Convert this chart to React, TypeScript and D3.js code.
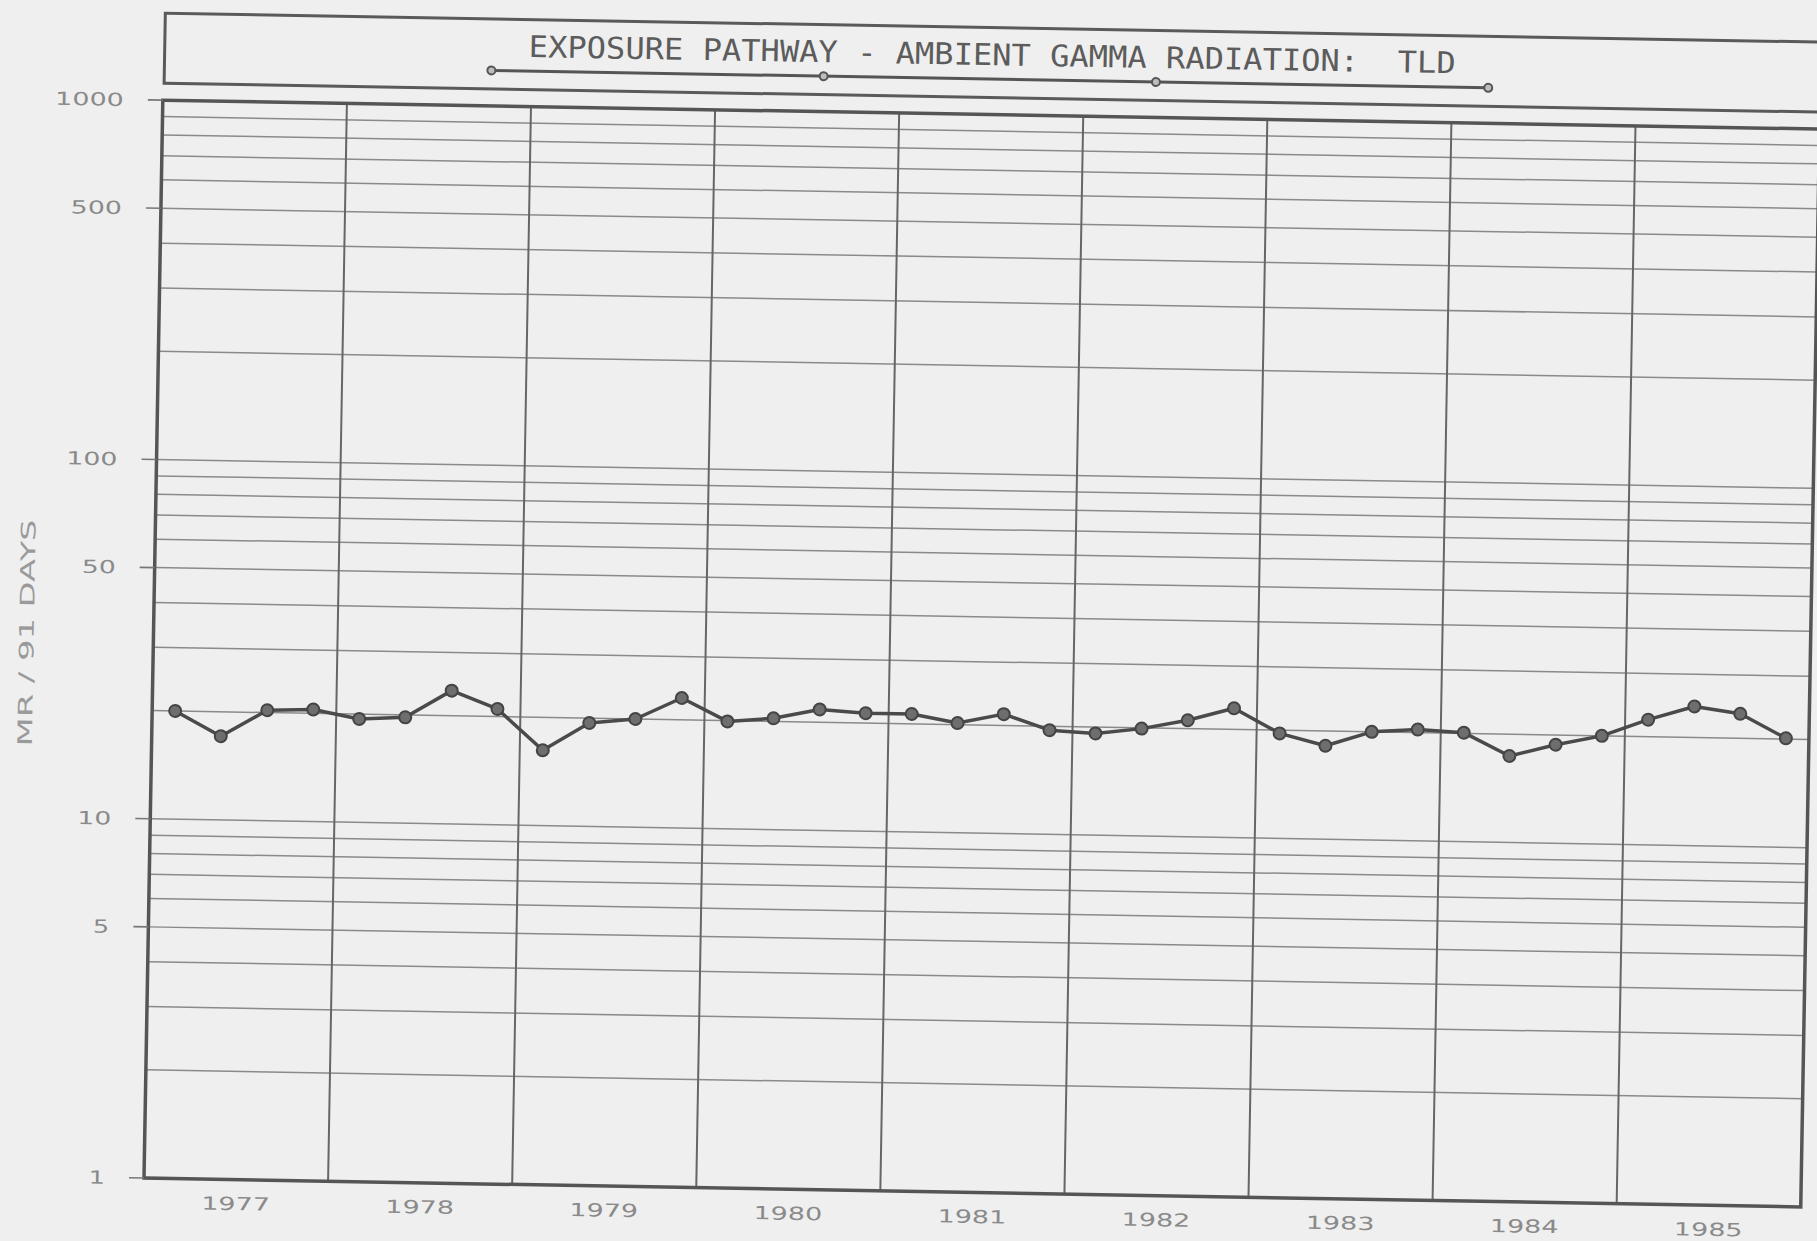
import React from "react";
import * as d3 from "d3";

// ---- data ----
const years = [1977, 1978, 1979, 1980, 1981, 1982, 1983, 1984, 1985];
const quarters = [1, 2, 3, 4];
// quarterly exposure, mR / 91 days, in order 1977 Q1 ... 1985 Q4
const exposure = [
  20.0, 17.1, 20.3, 20.5,
  19.4, 19.7, 23.5, 21.0,
  16.2, 19.4, 20.0, 23.0,
  19.9, 20.4, 21.7, 21.3,
  21.3, 20.2, 21.5, 19.5,
  19.2, 19.9, 21.1, 22.9,
  19.6, 18.2, 20.0, 20.4,
  20.1, 17.4, 18.8, 20.0,
  22.3, 24.4, 23.4, 20.1,
];
const yTickValues = [1000, 500, 100, 50, 10, 5, 1];
const yTickLabels = ["1000", "500", "100", "50", "10", "5", "1"];
const titleText = "EXPOSURE PATHWAY - AMBIENT GAMMA RADIATION:  TLD";
const yAxisTitle = "MR / 91 DAYS";

// ---- layout ----
const W = 1817;
const H = 1241;
const left = 144;
const top = 100;
const plotW = 1657;
const plotH = 1078;
const right = left + plotW;
const bottom = top + plotH;
const tilt = 1; // degrees, scan rotation

export default function App() {
  const x = d3.scaleLinear().domain([1977, 1986]).range([left, right]);
  const y = d3.scaleLog().domain([1, 1000]).range([bottom, top]);

  const points = exposure.map((v, i) => {
    const yr = years[Math.floor(i / 4)];
    const q = quarters[i % 4];
    return { t: yr + (q - 0.5) / 4, v };
  });

  const line = d3
    .line<{ t: number; v: number }>()
    .x((d) => x(d.t))
    .y((d) => y(d.v));

  const minor: number[] = [];
  for (let k = 0; k < 3; k++) {
    for (let m = 1; m <= 9; m++) {
      const val = m * Math.pow(10, k);
      if (val > 1 && val < 1000) minor.push(val);
    }
  }
  const yearLines = d3.range(1978, 1986);

  const labelFont = "'DejaVu Sans', sans-serif";
  const labelColor = "#8a8a8a";
  const charW = 17.4;

  const legendX0 = 472;
  const legendX1 = 1469;
  const legendY = 64.5;
  const legendMarks = d3.range(4).map((i) => legendX0 + (i * (legendX1 - legendX0)) / 3);

  return (
    <svg
      width={W}
      height={H}
      viewBox={`0 0 ${W} ${H}`}
      style={{ position: "absolute", left: 0, top: 0, background: "#efefef" }}
    >
      <rect x={0} y={0} width={W} height={H} fill="#efefef" />
      <g transform={`rotate(${tilt}, ${left}, ${bottom})`}>
        {/* title box */}
        <rect x={left + 1} y={13} width={plotW - 1} height={70} fill="none" stroke="#5a5a5a" strokeWidth={3} />
        <text
          x={(left + right) / 2}
          y={50.5}
          textAnchor="middle"
          fontFamily="'DejaVu Sans Mono', monospace"
          fontSize={30}
          fill="#5c5c5c"
          textLength={927}
          lengthAdjust="spacingAndGlyphs"
          style={{ whiteSpace: "pre" }}
        >
          {titleText}
        </text>
        <line x1={legendX0} x2={legendX1} y1={legendY} y2={legendY} stroke="#555" strokeWidth={3} />
        {legendMarks.map((lx, i) => (
          <circle key={i} cx={lx} cy={legendY} r={4} fill="#bdbdbd" stroke="#555" strokeWidth={2} />
        ))}

        {/* horizontal minor grid */}
        {minor.map((v) => (
          <line
            key={v}
            x1={left}
            x2={right}
            y1={y(v)}
            y2={y(v)}
            stroke="#8a8a8a"
            strokeWidth={1.5}
          />
        ))}
        {/* year separators */}
        {yearLines.map((yr) => (
          <line key={yr} x1={x(yr)} x2={x(yr)} y1={top} y2={bottom} stroke="#666" strokeWidth={2} />
        ))}
        {/* frame */}
        <rect x={left} y={top} width={plotW} height={plotH} fill="none" stroke="#555" strokeWidth={3.5} />

        {/* y ticks and labels */}
        {yTickValues.map((v, i) => (
          <g key={v}>
            <line x1={left - 15} x2={left} y1={y(v)} y2={y(v)} stroke="#777" strokeWidth={1.6} />
            <text
              x={105}
              y={y(v)}
              dy="0.36em"
              textAnchor="end"
              fontFamily={labelFont}
              fontSize={18}
              fill={labelColor}
              textLength={yTickLabels[i].length * charW - 1}
              lengthAdjust="spacingAndGlyphs"
            >
              {yTickLabels[i]}
            </text>
          </g>
        ))}
        {/* y axis title */}
        <text
          transform={`translate(17, 635) rotate(-90)`}
          textAnchor="middle"
          dy="0.36em"
          fontFamily={labelFont}
          fontSize={20}
          fill="#9a9a9a"
          textLength={227}
          lengthAdjust="spacingAndGlyphs"
        >
          {yAxisTitle}
        </text>

        {/* x labels */}
        {years.map((yr) => (
          <text
            key={yr}
            x={x(yr + 0.5)}
            y={bottom + 24}
            dy="0.36em"
            textAnchor="middle"
            fontFamily={labelFont}
            fontSize={18}
            fill={labelColor}
            textLength={4 * charW - 1}
            lengthAdjust="spacingAndGlyphs"
          >
            {String(yr)}
          </text>
        ))}

        {/* data */}
        <path d={line(points) || ""} fill="none" stroke="#4a4a4a" strokeWidth={3.5} strokeLinejoin="round" />
        {points.map((p, i) => (
          <circle key={i} cx={x(p.t)} cy={y(p.v)} r={6} fill="#6e6e6e" stroke="#444" strokeWidth={2} />
        ))}
      </g>
    </svg>
  );
}
